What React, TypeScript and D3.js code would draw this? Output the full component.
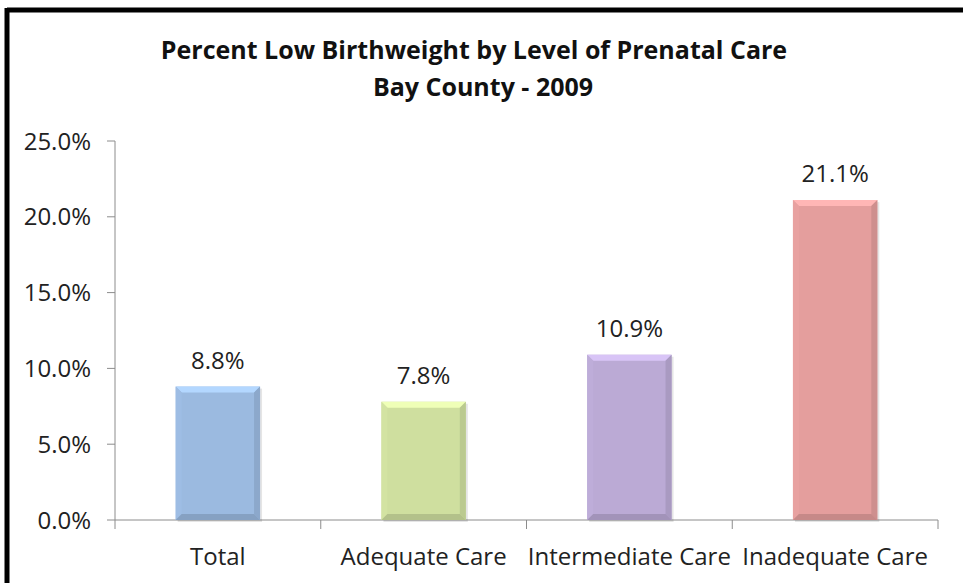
import { useMemo } from "react";
import * as d3 from "d3";

const categories = ["Total", "Adequate Care", "Intermediate Care", "Inadequate Care"];
const values = [8.8, 7.8, 10.9, 21.1];
const yTicks = [0, 5, 10, 15, 20, 25];
const colors = ["#9bbae0", "#cfdf9f", "#bbaad5", "#e49e9d"];

const W = 963;
const H = 583;
const FONT = "'Open Sans', sans-serif";
const BEVEL = 6;

const Bar = ({ x, y, w, h, color }: { x: number; y: number; w: number; h: number; color: string }) => {
    const c = d3.color(color)!;
    const light = c.brighter(0.4).toString();
    const lightSide = c.brighter(0.05).toString();
    const dark = c.darker(0.4).toString();
    const darkSide = c.darker(0.28).toString();
    const b = Math.min(BEVEL, h / 2);
    const x1 = x + w;
    const y1 = y + h;
    return (
        <g>
            <rect x={x + 2} y={y + 2} width={w} height={h} fill="#000" opacity={0.1} />
            <rect x={x} y={y} width={w} height={h} fill={color} />
            <polygon points={`${x},${y} ${x1},${y} ${x1 - b},${y + b} ${x + b},${y + b}`} fill={light} />
            <polygon points={`${x},${y} ${x + b},${y + b} ${x + b},${y1 - b} ${x},${y1}`} fill={lightSide} />
            <polygon points={`${x1},${y} ${x1},${y1} ${x1 - b},${y1 - b} ${x1 - b},${y + b}`} fill={darkSide} />
            <polygon points={`${x},${y1} ${x + b},${y1 - b} ${x1 - b},${y1 - b} ${x1},${y1}`} fill={dark} />
        </g>
    );
};

export default function App() {
    const x = useMemo(
        () => d3.scaleBand<string>().domain(categories).range([115, 938]).paddingInner(0.59).paddingOuter(0.295),
        []
    );
    const y = useMemo(() => d3.scaleLinear().domain([0, 25]).range([520, 141]), []);
    const step = x.step();

    return (
        <svg width={W} height={H} style={{ position: "absolute", left: 0, top: 0 }}>
            <rect x={0} y={0} width={W} height={H} fill="#fff" />
            <line x1={7} y1={10} x2={W} y2={10} stroke="#000" strokeWidth={5} />
            <line x1={7} y1={8} x2={7} y2={H} stroke="#000" strokeWidth={5} />

            <text x={474} y={59} textAnchor="middle" fontFamily={FONT} fontWeight="bold" fontSize={25} fill="#111">
                Percent Low Birthweight by Level of Prenatal Care
            </text>
            <text x={483} y={96} textAnchor="middle" fontFamily={FONT} fontWeight="bold" fontSize={25} fill="#111">
                Bay County - 2009
            </text>

            {/* y axis */}
            <line x1={115} y1={y(25)} x2={115} y2={y(0)} stroke="#8c8c8c" />
            {yTicks.map(t => (
                <g key={t}>
                    <line x1={107} x2={115} y1={y(t)} y2={y(t)} stroke="#8c8c8c" />
                    <text x={91} y={y(t)} dy="0.36em" textAnchor="end" fontFamily={FONT} fontSize={24} fill="#222">
                        {t.toFixed(1)}%
                    </text>
                </g>
            ))}

            {/* x axis */}
            <line x1={115} y1={y(0)} x2={938} y2={y(0)} stroke="#8c8c8c" />
            {d3.range(categories.length + 1).map(i => (
                <line key={i} x1={115 + i * step} x2={115 + i * step} y1={y(0)} y2={y(0) + 9} stroke="#8c8c8c" />
            ))}

            {categories.map((c, i) => {
                const bx = x(c)!;
                const bw = x.bandwidth();
                const top = y(values[i]);
                return (
                    <g key={c}>
                        <Bar x={bx} y={top} w={bw} h={y(0) - top} color={colors[i]} />
                        <text x={bx + bw / 2} y={top - 18} textAnchor="middle" fontFamily={FONT} fontSize={24} fill="#222">
                            {values[i].toFixed(1)}%
                        </text>
                        <text x={bx + bw / 2} y={565} textAnchor="middle" fontFamily={FONT} fontSize={24} fill="#222">
                            {c}
                        </text>
                    </g>
                );
            })}
        </svg>
    );
}
